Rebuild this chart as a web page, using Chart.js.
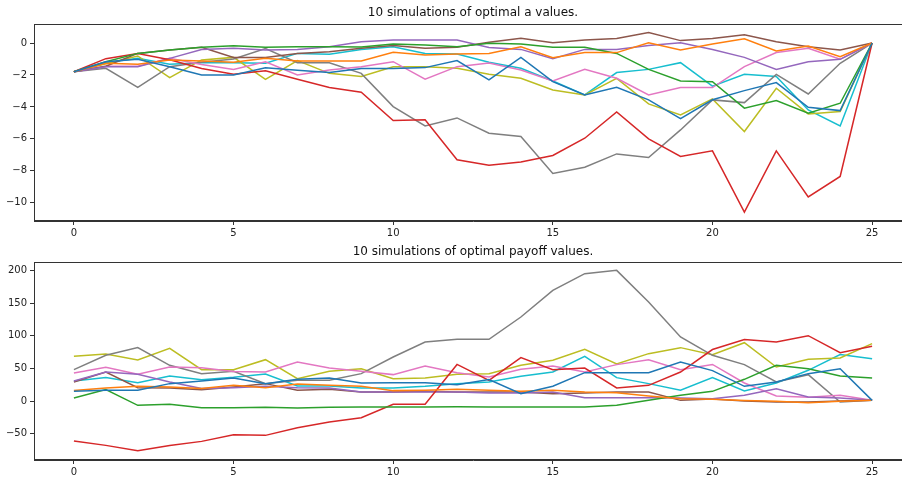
<!DOCTYPE html>
<html>
<head>
<meta charset="utf-8">
<script src="https://cdn.jsdelivr.net/npm/chart.js@4.4.0/dist/chart.umd.min.js"></script>
<style>
  html, body { margin: 0; padding: 0; background: #fff; overflow: hidden; }
  #wrap { position: relative; width: 902px; height: 477px; overflow: hidden; }
  #chartA { position: absolute; left: 0; top: 0; }
  #chartB { position: absolute; left: 0; top: 242px; }
</style>
</head>
<body>
<div id="wrap">
  <canvas id="chartA" width="914" height="242"></canvas>
  <canvas id="chartB" width="914" height="235"></canvas>
</div>
<script>
// step index 0..25
var steps = [];
for (var s = 0; s <= 25; s++) steps.push(s);

var seriesColors = ['#1f77b4', '#ff7f0e', '#2ca02c', '#d62728', '#9467bd',
                    '#8c564b', '#e377c2', '#7f7f7f', '#bcbd22', '#17becf'];

// optimal a values (top panel)
var aBlue   = [-1.8, -1.17, -1.02, -1.48, -2.0, -2.0, -1.55, -1.7, -1.85, -1.6, -1.6, -1.54, -1.1, -2.31, -0.9, -2.42, -3.25, -2.77, -3.56, -4.73, -3.55, -2.98, -2.48, -4.02, -4.23, 0];
var aOrange = [-1.8, -1.27, -1.33, -1.06, -1.13, -1.2, -0.96, -1.13, -1.13, -1.13, -0.58, -0.75, -0.69, -0.65, -0.23, -0.92, -0.6, -0.6, 0.02, -0.44, -0.06, 0.27, -0.5, -0.19, -0.85, 0];
var aGreen  = [-1.8, -1.17, -0.65, -0.44, -0.27, -0.17, -0.27, -0.23, -0.23, -0.25, -0.06, -0.13, -0.23, -0.02, -0.06, -0.27, -0.27, -0.65, -1.65, -2.38, -2.42, -4.08, -3.6, -4.4, -3.77, 0];
var aRed    = [-1.8, -0.98, -0.65, -1.05, -1.6, -1.96, -1.73, -2.27, -2.79, -3.08, -4.85, -4.81, -7.31, -7.65, -7.44, -7.04, -5.96, -4.31, -6.0, -7.1, -6.75, -10.58, -6.75, -9.63, -8.35, 0];
var aPurple = [-1.8, -1.48, -1.48, -0.96, -0.4, -0.33, -0.44, -0.4, -0.23, 0.08, 0.19, 0.19, 0.19, -0.28, -0.4, -0.98, -0.4, -0.4, -0.15, 0.02, -0.4, -0.9, -1.65, -1.17, -1.02, 0];
var aBrown  = [-1.8, -1.45, -0.65, -0.44, -0.27, -0.9, -0.9, -0.65, -0.55, -0.33, -0.15, -0.33, -0.27, 0.05, 0.29, 0.02, 0.19, 0.29, 0.65, 0.15, 0.29, 0.52, 0.08, -0.23, -0.44, 0];
var aPink   = [-1.8, -1.45, -1.45, -0.95, -1.35, -1.65, -1.17, -2.0, -1.69, -1.48, -1.17, -2.27, -1.48, -1.25, -1.69, -2.38, -1.65, -2.21, -3.25, -2.79, -2.79, -1.48, -0.6, -0.33, -1.02, 0];
var aGray   = [-1.8, -1.58, -2.77, -1.48, -1.2, -1.0, -0.35, -1.23, -1.23, -1.9, -3.98, -5.19, -4.69, -5.65, -5.85, -8.17, -7.77, -6.94, -7.17, -5.44, -3.56, -3.73, -1.96, -3.19, -1.27, 0];
var aOlive  = [-1.8, -1.3, -0.81, -2.17, -1.06, -0.9, -2.27, -1.1, -1.9, -2.1, -1.48, -1.48, -1.58, -1.95, -2.21, -2.94, -3.25, -2.21, -3.81, -4.5, -3.5, -5.54, -2.83, -4.44, -4.29, 0];
var aCyan   = [-1.8, -1.23, -0.96, -1.33, -1.23, -1.23, -1.27, -0.65, -0.71, -0.4, -0.23, -0.65, -0.69, -1.2, -1.58, -2.38, -3.25, -1.85, -1.65, -1.23, -2.7, -1.96, -2.1, -4.19, -5.19, 0];

// optimal payoff values (bottom panel)
var pBlue   = [15, 16.4, 16.4, 26.6, 30.7, 35.3, 26.6, 33.2, 35.3, 27.6, 28.1, 28.1, 25, 33, 11.3, 22.5, 43.4, 43.4, 43.4, 59.7, 46.5, 22.5, 29.1, 41.9, 49.5, 1];
var pOrange = [16, 20, 22.5, 21.5, 19, 24, 20.4, 26, 24, 22.5, 15.9, 16.4, 17.9, 16.4, 14.8, 16.4, 13.8, 12.8, 7.7, 3.6, 2.6, 0.6, -0.5, -2.5, -0.5, 1];
var pGreen  = [4.6, 17.4, -6.6, -5, -10.2, -10.2, -9.7, -10.7, -9.7, -9.1, -9.1, -9.1, -8.6, -9.1, -9.1, -9.1, -9.1, -6.6, 1, 8.7, 14.8, 33.2, 54.6, 49.5, 38.3, 35.3];
var pRed    = [-61.2, -67.9, -76, -68, -61.8, -51.5, -52.6, -40.8, -32, -25.5, -5, -5, 56, 31.7, 66.4, 48, 50.5, 20, 24, 44.4, 78.8, 94, 90.4, 100, 74, 83.7];
var pPurple = [30.7, 44.4, 40.9, 29.1, 19, 20.4, 22.5, 20.4, 20, 13.8, 13.8, 13.8, 13.8, 12.3, 12.3, 13.8, 5.1, 5.1, 5.1, 4.6, 3.6, 8.7, 18.9, 6.2, 4.6, 1];
var pBrown  = [29, 44.4, 20.4, 20, 17.4, 21.5, 26.6, 16.4, 17.9, 13.8, 13.8, 14.8, 13.8, 13.8, 13.8, 11.3, 12.3, 13.8, 13.8, 1, 3, 0, -1.5, -1.5, 0, 1];
var pPink   = [42.9, 51.6, 40.9, 52.1, 51, 45, 44.4, 59.7, 50.6, 45.4, 40.4, 53.6, 43.4, 36.8, 48.5, 53.6, 44.4, 55.7, 63.3, 48, 56, 27.6, 7.7, 5.7, 8.7, 1];
var pGray   = [48, 70, 81.7, 54.6, 41.9, 45.5, 26.6, 31.7, 31.7, 41.9, 67.4, 90.4, 94.4, 94.4, 128.6, 169.4, 194.9, 200, 151.6, 98, 70, 55.7, 29.1, 40.3, -1.5, 1];
var pOlive  = [68.4, 72, 62.8, 80.6, 48, 48, 63.3, 34.2, 45.4, 49.5, 34.2, 35.3, 40.9, 41.9, 54.6, 62.3, 79, 56.6, 72.5, 81.7, 71, 89.3, 52, 63.8, 65.9, 87.8];
var pCyan   = [30.7, 35.8, 28.1, 38.3, 32.7, 36.3, 41.4, 23, 23, 20, 20, 22.5, 26.6, 29.1, 37.8, 44.4, 68.4, 35.8, 26.6, 16.4, 35.8, 15.4, 27.6, 47, 71, 64.8];

var topTicks = [-10, -8, -6, -4, -2, 0];
var bottomTicks = [-50, 0, 50, 100, 150, 200];
var xTicks = [0, 5, 10, 15, 20, 25];

Chart.defaults.font.family = "'DejaVu Sans', sans-serif";
Chart.defaults.font.size = 10;
Chart.defaults.color = '#222';
Chart.defaults.animation = false;

// matplotlib-like box around the plot
var framePlugin = {
  id: 'frame',
  afterDraw: function(chart) {
    var a = chart.chartArea;
    var c = chart.ctx;
    c.save();
    c.strokeStyle = '#333';
    c.lineWidth = 1;
    c.strokeRect(Math.round(a.left) + 0.5, Math.round(a.top) + 0.5,
                 Math.round(a.right - a.left) - 1, Math.round(a.bottom - a.top) - 1);
    c.restore();
  }
};

function makeSets(list) {
  var sets = [];
  for (var k = 0; k < list.length; k++) {
    sets.push({
      data: list[k].map(function(v, i) { return {x: steps[i], y: v}; }),
      borderColor: seriesColors[k],
      backgroundColor: seriesColors[k],
      borderWidth: 1.5,
      pointRadius: 0,
      tension: 0,
      fill: false
    });
  }
  return sets;
}

function fmt(v) {
  return String(v).replace('-', '\u2212');
}

function makeChart(id, title, sets, yMin, yMax, yTicks, titlePad, xHeight) {
  var ctx = document.getElementById(id).getContext('2d');
  return new Chart(ctx, {
    type: 'line',
    data: {datasets: sets},
    plugins: [framePlugin],
    options: {
      responsive: false,
      animation: false,
      layout: {padding: {left: 0, right: 2, top: 0, bottom: 0}},
      plugins: {
        legend: {display: false},
        tooltip: {enabled: false},
        title: {
          display: true,
          text: title,
          color: '#111',
          font: {size: 12, weight: 'normal'},
          padding: titlePad,
          fullSize: false   // centred over the axes, not the canvas
        }
      },
      scales: {
        x: {
          type: 'linear',
          min: -1.25,
          max: 26.25,
          afterFit: function(scale) { scale.height = xHeight; },
          afterBuildTicks: function(scale) {
            scale.ticks = xTicks.map(function(v) { return {value: v}; });
          },
          ticks: {padding: 2, maxRotation: 0, callback: fmt},
          grid: {display: true, drawOnChartArea: false, drawTicks: true, tickLength: 4, color: '#333'},
          border: {display: true, color: '#333'}
        },
        y: {
          min: yMin,
          max: yMax,
          afterFit: function(scale) { scale.width = 34; },
          afterBuildTicks: function(scale) {
            scale.ticks = yTicks.map(function(v) { return {value: v}; });
          },
          ticks: {padding: 3, callback: fmt},
          grid: {display: true, drawOnChartArea: false, drawTicks: true, tickLength: 4, color: '#333'},
          border: {display: true, color: '#333'}
        }
      }
    }
  });
}

window.onload = function() {
  makeChart('chartA', '10 simulations of optimal a values.',
    makeSets([aBlue, aOrange, aGreen, aRed, aPurple, aBrown, aPink, aGray, aOlive, aCyan]),
    -11.14, 1.19, topTicks, {top: 6, bottom: 3.6}, 21);
  makeChart('chartB', '10 simulations of optimal payoff values.',
    makeSets([pBlue, pOrange, pGreen, pRed, pPurple, pBrown, pPink, pGray, pOlive, pCyan]),
    -90.3, 212.8, bottomTicks, {top: 3, bottom: 2.6}, 17);
};
</script>
</body>
</html>
